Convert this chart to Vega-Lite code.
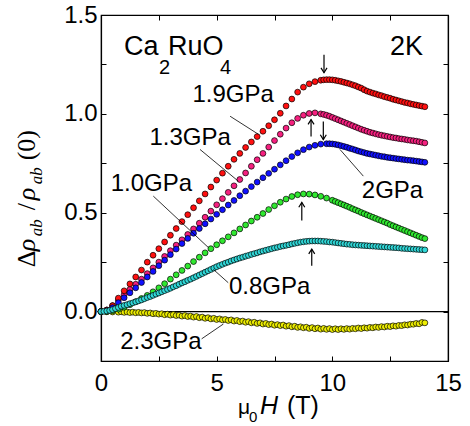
{
"$schema": "https://vega.github.io/schema/vega-lite/v6.json",
"width": 347, "height": 346,
"autosize": {"type": "none"},
"padding": {"left": 101, "top": 15, "right": 22, "bottom": 65},
"background": "white",
"config": {
 "view": {"stroke": "black", "strokeWidth": 1.2},
 "axis": {"domainColor": "black", "domainWidth": 1.2, "tickColor": "black", "tickWidth": 1, "tickSize": -5, "labelFont": "Liberation Sans", "labelFontSize": 24, "labelColor": "black", "grid": false, "labelFlush": false, "labelOverlap": false}
},
"datasets": {
 "yellow": [
  {"h":0,"v":0},{"h":0.25,"v":-0.001},{"h":0.5,"v":-0.002},{"h":0.75,"v":-0.003},{"h":0.875,"v":-0.001},{"h":1.0,"v":-0.004},{"h":1.125,"v":-0.002},{"h":1.25,"v":-0.005},{"h":1.375,"v":-0.003},{"h":1.5,"v":-0.006},{"h":1.625,"v":-0.004},{"h":1.75,"v":-0.007},{"h":1.875,"v":-0.005},{"h":2.0,"v":-0.009},{"h":2.125,"v":-0.007},{"h":2.25,"v":-0.011},{"h":2.375,"v":-0.009},{"h":2.5,"v":-0.013},{"h":2.625,"v":-0.011},{"h":2.75,"v":-0.016},{"h":2.875,"v":-0.013},{"h":3.0,"v":-0.018},{"h":3.125,"v":-0.015},{"h":3.25,"v":-0.02},{"h":3.375,"v":-0.018},{"h":3.5,"v":-0.023},{"h":3.625,"v":-0.02},{"h":3.75,"v":-0.025},{"h":3.875,"v":-0.023},{"h":4.0,"v":-0.028},{"h":4.125,"v":-0.025},{"h":4.25,"v":-0.031},{"h":4.375,"v":-0.028},{"h":4.5,"v":-0.034},{"h":4.625,"v":-0.031},{"h":4.75,"v":-0.037},{"h":4.875,"v":-0.034},{"h":5.0,"v":-0.04},{"h":5.125,"v":-0.037},{"h":5.25,"v":-0.042},{"h":5.375,"v":-0.04},{"h":5.5,"v":-0.045},{"h":5.625,"v":-0.042},{"h":5.75,"v":-0.048},{"h":5.875,"v":-0.045},{"h":6.0,"v":-0.051},{"h":6.125,"v":-0.048},{"h":6.25,"v":-0.054},{"h":6.375,"v":-0.051},{"h":6.5,"v":-0.057},{"h":6.625,"v":-0.054},{"h":6.75,"v":-0.06},{"h":6.875,"v":-0.057},{"h":7.0,"v":-0.063},{"h":7.125,"v":-0.06},{"h":7.25,"v":-0.066},{"h":7.375,"v":-0.063},{"h":7.5,"v":-0.069},{"h":7.625,"v":-0.066},{"h":7.75,"v":-0.071},{"h":7.875,"v":-0.068},{"h":8.0,"v":-0.074},{"h":8.125,"v":-0.071},{"h":8.25,"v":-0.077},{"h":8.375,"v":-0.074},{"h":8.5,"v":-0.08},{"h":8.625,"v":-0.077},{"h":8.75,"v":-0.082},{"h":8.875,"v":-0.079},{"h":9.0,"v":-0.085},{"h":9.125,"v":-0.081},{"h":9.25,"v":-0.087},{"h":9.375,"v":-0.083},{"h":9.5,"v":-0.089},{"h":9.625,"v":-0.085},{"h":9.75,"v":-0.09},{"h":9.875,"v":-0.086},{"h":10.0,"v":-0.091},{"h":10.125,"v":-0.087},{"h":10.25,"v":-0.091},{"h":10.375,"v":-0.087},{"h":10.5,"v":-0.09},{"h":10.625,"v":-0.086},{"h":10.75,"v":-0.089},{"h":10.875,"v":-0.085},{"h":11.0,"v":-0.087},{"h":11.125,"v":-0.083},{"h":11.25,"v":-0.086},{"h":11.375,"v":-0.082},{"h":11.5,"v":-0.084},{"h":11.625,"v":-0.08},{"h":11.75,"v":-0.082},{"h":11.875,"v":-0.078},{"h":12.0,"v":-0.08},{"h":12.125,"v":-0.076},{"h":12.25,"v":-0.078},{"h":12.375,"v":-0.074},{"h":12.5,"v":-0.076},{"h":12.625,"v":-0.072},{"h":12.75,"v":-0.074},{"h":12.875,"v":-0.07},{"h":13.0,"v":-0.071},{"h":13.125,"v":-0.067},{"h":13.25,"v":-0.068},{"h":13.375,"v":-0.064},{"h":13.5,"v":-0.064},{"h":13.625,"v":-0.06},{"h":13.75,"v":-0.062},{"h":13.875,"v":-0.055},{"h":14.0,"v":-0.057}
 ],
 "pink": [
  {"h":0,"v":0},{"h":0.25,"v":0.008},{"h":0.5,"v":0.03},{"h":0.75,"v":0.058},{"h":1.0,"v":0.085},{"h":1.25,"v":0.112},{"h":1.5,"v":0.138},{"h":1.75,"v":0.164},{"h":2.0,"v":0.192},{"h":2.25,"v":0.221},{"h":2.5,"v":0.25},{"h":2.75,"v":0.279},{"h":3.0,"v":0.308},{"h":3.25,"v":0.336},{"h":3.5,"v":0.363},{"h":3.75,"v":0.39},{"h":4.0,"v":0.418},{"h":4.25,"v":0.447},{"h":4.5,"v":0.477},{"h":4.75,"v":0.508},{"h":5.0,"v":0.54},{"h":5.25,"v":0.571},{"h":5.5,"v":0.603},{"h":5.75,"v":0.636},{"h":6.0,"v":0.668},{"h":6.25,"v":0.701},{"h":6.5,"v":0.735},{"h":6.75,"v":0.768},{"h":7.0,"v":0.8},{"h":7.25,"v":0.832},{"h":7.5,"v":0.865},{"h":7.75,"v":0.897},{"h":8.0,"v":0.928},{"h":8.25,"v":0.955},{"h":8.5,"v":0.977},{"h":8.75,"v":0.993},{"h":9.0,"v":1.002},{"h":9.25,"v":1.005},{"h":9.5,"v":1.0},
  {"h":9.625,"v":0.997},{"h":9.75,"v":0.993},{"h":9.875,"v":0.988},{"h":10.0,"v":0.982},{"h":10.125,"v":0.976},{"h":10.25,"v":0.97},{"h":10.375,"v":0.964},{"h":10.5,"v":0.958},{"h":10.625,"v":0.952},{"h":10.75,"v":0.946},{"h":10.875,"v":0.94},{"h":11.0,"v":0.934},{"h":11.125,"v":0.928},{"h":11.25,"v":0.922},{"h":11.375,"v":0.917},{"h":11.5,"v":0.912},{"h":11.625,"v":0.907},{"h":11.75,"v":0.903},{"h":11.875,"v":0.899},{"h":12.0,"v":0.895},{"h":12.125,"v":0.892},{"h":12.25,"v":0.889},{"h":12.375,"v":0.886},{"h":12.5,"v":0.883},{"h":12.625,"v":0.88},{"h":12.75,"v":0.878},{"h":12.875,"v":0.875},{"h":13.0,"v":0.873},{"h":13.125,"v":0.871},{"h":13.25,"v":0.868},{"h":13.375,"v":0.866},{"h":13.5,"v":0.864},{"h":13.625,"v":0.862},{"h":13.75,"v":0.859},{"h":13.875,"v":0.856},{"h":14.0,"v":0.853}
 ],
 "red": [
  {"h":0,"v":0},{"h":0.25,"v":0.008},{"h":0.5,"v":0.03},{"h":0.75,"v":0.068},{"h":1.0,"v":0.105},{"h":1.25,"v":0.14},{"h":1.5,"v":0.175},{"h":1.75,"v":0.21},{"h":2.0,"v":0.25},{"h":2.25,"v":0.285},{"h":2.5,"v":0.318},{"h":2.75,"v":0.352},{"h":3.0,"v":0.386},{"h":3.25,"v":0.42},{"h":3.5,"v":0.455},{"h":3.75,"v":0.49},{"h":4.0,"v":0.525},{"h":4.25,"v":0.56},{"h":4.5,"v":0.595},{"h":4.75,"v":0.63},{"h":5.0,"v":0.665},{"h":5.25,"v":0.7},{"h":5.5,"v":0.735},{"h":5.75,"v":0.77},{"h":6.0,"v":0.8},{"h":6.25,"v":0.83},{"h":6.5,"v":0.858},{"h":6.75,"v":0.885},{"h":7.0,"v":0.912},{"h":7.25,"v":0.94},{"h":7.5,"v":0.97},{"h":7.75,"v":1.003},{"h":8.0,"v":1.04},{"h":8.25,"v":1.075},{"h":8.5,"v":1.11},{"h":8.75,"v":1.135},{"h":9.0,"v":1.152},{"h":9.25,"v":1.163},{"h":9.5,"v":1.17},
  {"h":9.625,"v":1.172},{"h":9.75,"v":1.173},{"h":9.875,"v":1.173},{"h":10.0,"v":1.172},{"h":10.125,"v":1.17},{"h":10.25,"v":1.167},{"h":10.375,"v":1.164},{"h":10.5,"v":1.16},{"h":10.625,"v":1.156},{"h":10.75,"v":1.152},{"h":10.875,"v":1.147},{"h":11.0,"v":1.142},{"h":11.125,"v":1.136},{"h":11.25,"v":1.13},{"h":11.375,"v":1.122},{"h":11.5,"v":1.115},{"h":11.625,"v":1.11},{"h":11.75,"v":1.105},{"h":11.875,"v":1.101},{"h":12.0,"v":1.096},{"h":12.125,"v":1.092},{"h":12.25,"v":1.087},{"h":12.375,"v":1.083},{"h":12.5,"v":1.079},{"h":12.625,"v":1.074},{"h":12.75,"v":1.07},{"h":12.875,"v":1.066},{"h":13.0,"v":1.062},{"h":13.125,"v":1.058},{"h":13.25,"v":1.055},{"h":13.375,"v":1.051},{"h":13.5,"v":1.048},{"h":13.625,"v":1.045},{"h":13.75,"v":1.042},{"h":13.875,"v":1.039},{"h":14.0,"v":1.036}
 ],
 "blue": [
  {"h":0,"v":0},{"h":0.25,"v":0.004},{"h":0.5,"v":0.02},{"h":0.75,"v":0.045},{"h":1.0,"v":0.07},{"h":1.25,"v":0.095},{"h":1.5,"v":0.12},{"h":1.75,"v":0.147},{"h":2.0,"v":0.175},{"h":2.25,"v":0.203},{"h":2.5,"v":0.232},{"h":2.75,"v":0.26},{"h":3.0,"v":0.288},{"h":3.25,"v":0.316},{"h":3.5,"v":0.344},{"h":3.75,"v":0.37},{"h":4.0,"v":0.396},{"h":4.25,"v":0.42},{"h":4.5,"v":0.444},{"h":4.75,"v":0.468},{"h":5.0,"v":0.492},{"h":5.25,"v":0.515},{"h":5.5,"v":0.539},{"h":5.75,"v":0.562},{"h":6.0,"v":0.586},{"h":6.25,"v":0.609},{"h":6.5,"v":0.632},{"h":6.75,"v":0.655},{"h":7.0,"v":0.677},{"h":7.25,"v":0.699},{"h":7.5,"v":0.72},{"h":7.75,"v":0.742},{"h":8.0,"v":0.763},{"h":8.25,"v":0.784},{"h":8.5,"v":0.803},{"h":8.75,"v":0.819},{"h":9.0,"v":0.832},{"h":9.25,"v":0.841},{"h":9.5,"v":0.847},{"h":9.75,"v":0.849},
  {"h":9.875,"v":0.849},{"h":10.0,"v":0.848},{"h":10.125,"v":0.846},{"h":10.25,"v":0.843},{"h":10.375,"v":0.839},{"h":10.5,"v":0.835},{"h":10.625,"v":0.831},{"h":10.75,"v":0.826},{"h":10.875,"v":0.822},{"h":11.0,"v":0.817},{"h":11.125,"v":0.812},{"h":11.25,"v":0.808},{"h":11.375,"v":0.804},{"h":11.5,"v":0.8},{"h":11.625,"v":0.797},{"h":11.75,"v":0.794},{"h":11.875,"v":0.791},{"h":12.0,"v":0.788},{"h":12.125,"v":0.785},{"h":12.25,"v":0.783},{"h":12.375,"v":0.78},{"h":12.5,"v":0.778},{"h":12.625,"v":0.776},{"h":12.75,"v":0.774},{"h":12.875,"v":0.772},{"h":13.0,"v":0.77},{"h":13.125,"v":0.768},{"h":13.25,"v":0.766},{"h":13.375,"v":0.765},{"h":13.5,"v":0.763},{"h":13.625,"v":0.761},{"h":13.75,"v":0.759},{"h":13.875,"v":0.757},{"h":14.0,"v":0.755}
 ],
 "green": [
  {"h":0,"v":0},{"h":0.25,"v":0.0},{"h":0.5,"v":0.004},{"h":0.75,"v":0.012},{"h":1.0,"v":0.022},{"h":1.25,"v":0.035},{"h":1.5,"v":0.05},{"h":1.75,"v":0.066},{"h":2.0,"v":0.082},{"h":2.25,"v":0.1},{"h":2.5,"v":0.12},{"h":2.75,"v":0.141},{"h":3.0,"v":0.164},{"h":3.25,"v":0.186},{"h":3.5,"v":0.208},{"h":3.75,"v":0.23},{"h":4.0,"v":0.253},{"h":4.25,"v":0.275},{"h":4.5,"v":0.297},{"h":4.75,"v":0.318},{"h":5.0,"v":0.338},{"h":5.25,"v":0.358},{"h":5.5,"v":0.378},{"h":5.75,"v":0.398},{"h":6.0,"v":0.418},{"h":6.25,"v":0.438},{"h":6.5,"v":0.458},{"h":6.75,"v":0.477},{"h":7.0,"v":0.496},{"h":7.25,"v":0.516},{"h":7.5,"v":0.535},{"h":7.75,"v":0.553},{"h":8.0,"v":0.569},{"h":8.25,"v":0.582},{"h":8.5,"v":0.591},{"h":8.75,"v":0.595},{"h":9.0,"v":0.594},{"h":9.25,"v":0.59},{"h":9.5,"v":0.583},{"h":9.75,"v":0.574},{"h":10.0,"v":0.563},
  {"h":10.125,"v":0.557},{"h":10.25,"v":0.551},{"h":10.375,"v":0.545},{"h":10.5,"v":0.539},{"h":10.625,"v":0.533},{"h":10.75,"v":0.527},{"h":10.875,"v":0.52},{"h":11.0,"v":0.514},{"h":11.125,"v":0.508},{"h":11.25,"v":0.501},{"h":11.375,"v":0.495},{"h":11.5,"v":0.489},{"h":11.625,"v":0.483},{"h":11.75,"v":0.477},{"h":11.875,"v":0.471},{"h":12.0,"v":0.465},{"h":12.125,"v":0.459},{"h":12.25,"v":0.453},{"h":12.375,"v":0.447},{"h":12.5,"v":0.44},{"h":12.625,"v":0.434},{"h":12.75,"v":0.428},{"h":12.875,"v":0.422},{"h":13.0,"v":0.416},{"h":13.125,"v":0.41},{"h":13.25,"v":0.404},{"h":13.375,"v":0.398},{"h":13.5,"v":0.392},{"h":13.625,"v":0.386},{"h":13.75,"v":0.38},{"h":13.875,"v":0.374},{"h":14.0,"v":0.369}
 ],
 "cyan": [
  {"h":0,"v":0},{"h":0.125,"v":0.001},{"h":0.25,"v":0.003},{"h":0.375,"v":0.006},{"h":0.5,"v":0.01},{"h":0.625,"v":0.015},{"h":0.75,"v":0.021},{"h":0.875,"v":0.027},{"h":1.0,"v":0.031},{"h":1.125,"v":0.035},{"h":1.25,"v":0.04},{"h":1.375,"v":0.044},{"h":1.5,"v":0.049},{"h":1.625,"v":0.054},{"h":1.75,"v":0.059},{"h":1.875,"v":0.065},{"h":2.0,"v":0.071},{"h":2.125,"v":0.076},{"h":2.25,"v":0.082},{"h":2.375,"v":0.088},{"h":2.5,"v":0.094},{"h":2.625,"v":0.1},{"h":2.75,"v":0.106},{"h":2.875,"v":0.112},{"h":3.0,"v":0.118},{"h":3.125,"v":0.125},{"h":3.25,"v":0.131},{"h":3.375,"v":0.138},{"h":3.5,"v":0.145},{"h":3.625,"v":0.151},{"h":3.75,"v":0.158},{"h":3.875,"v":0.164},{"h":4.0,"v":0.171},{"h":4.125,"v":0.178},{"h":4.25,"v":0.185},{"h":4.375,"v":0.192},{"h":4.5,"v":0.199},{"h":4.625,"v":0.206},{"h":4.75,"v":0.213},{"h":4.875,"v":0.22},{"h":5.0,"v":0.227},{"h":5.125,"v":0.233},{"h":5.25,"v":0.239},{"h":5.375,"v":0.245},{"h":5.5,"v":0.25},{"h":5.625,"v":0.256},{"h":5.75,"v":0.261},{"h":5.875,"v":0.266},{"h":6.0,"v":0.271},{"h":6.125,"v":0.275},{"h":6.25,"v":0.28},{"h":6.375,"v":0.284},{"h":6.5,"v":0.289},{"h":6.625,"v":0.293},{"h":6.75,"v":0.297},{"h":6.875,"v":0.302},{"h":7.0,"v":0.306},{"h":7.125,"v":0.31},{"h":7.25,"v":0.314},{"h":7.375,"v":0.318},{"h":7.5,"v":0.322},{"h":7.625,"v":0.325},{"h":7.75,"v":0.329},{"h":7.875,"v":0.332},{"h":8.0,"v":0.335},{"h":8.125,"v":0.338},{"h":8.25,"v":0.342},{"h":8.375,"v":0.345},{"h":8.5,"v":0.348},{"h":8.625,"v":0.351},{"h":8.75,"v":0.353},{"h":8.875,"v":0.355},{"h":9.0,"v":0.356},{"h":9.125,"v":0.357},{"h":9.25,"v":0.357},{"h":9.375,"v":0.357},{"h":9.5,"v":0.356},{"h":9.625,"v":0.355},{"h":9.75,"v":0.354},{"h":9.875,"v":0.352},{"h":10.0,"v":0.351},{"h":10.125,"v":0.349},{"h":10.25,"v":0.347},{"h":10.375,"v":0.345},{"h":10.5,"v":0.343},{"h":10.625,"v":0.341},{"h":10.75,"v":0.34},{"h":10.875,"v":0.338},{"h":11.0,"v":0.337},{"h":11.125,"v":0.336},{"h":11.25,"v":0.335},{"h":11.375,"v":0.334},{"h":11.5,"v":0.333},{"h":11.625,"v":0.332},{"h":11.75,"v":0.331},{"h":11.875,"v":0.33},{"h":12.0,"v":0.329},{"h":12.125,"v":0.328},{"h":12.25,"v":0.327},{"h":12.375,"v":0.326},{"h":12.5,"v":0.325},{"h":12.625,"v":0.324},{"h":12.75,"v":0.323},{"h":12.875,"v":0.322},{"h":13.0,"v":0.32},{"h":13.125,"v":0.319},{"h":13.25,"v":0.318},{"h":13.375,"v":0.317},{"h":13.5,"v":0.316},{"h":13.625,"v":0.315},{"h":13.75,"v":0.314},{"h":13.875,"v":0.313},{"h":14.0,"v":0.312}
 ],
 "labels": [
  {"h":5.71,"v":1.062,"t":"1.9GPa"},
  {"h":3.85,"v":0.845,"t":"1.3GPa"},
  {"h":2.18,"v":0.609,"t":"1.0GPa"},
  {"h":7.29,"v":0.089,"t":"0.8GPa"},
  {"h":2.59,"v":-0.189,"t":"2.3GPa"},
  {"h":12.6,"v":0.576,"t":"2GPa"}
 ],
 "leaders": [
  {"h":5.58,"v":0.988,"h2":6.8,"v2":0.897},
  {"h":4.28,"v":0.82,"h2":5.93,"v2":0.66},
  {"h":2.26,"v":0.584,"h2":4.64,"v2":0.324},
  {"h":5.5,"v":0.146,"h2":4.86,"v2":0.213},
  {"h":4.35,"v":-0.138,"h2":5.29,"v2":-0.063},
  {"h":11.34,"v":0.685,"h2":10.33,"v2":0.82}
 ],
 "arrows": [
  {"h":9.64,"v":1.2995,"v2":1.208,"d":"down"},
  {"h":9.08,"v":0.885,"v2":0.971,"d":"up"},
  {"h":9.61,"v":0.961,"v2":0.87,"d":"down"},
  {"h":8.68,"v":0.461,"v2":0.552,"d":"up"},
  {"h":9.11,"v":0.232,"v2":0.316,"d":"up"}
 ],
 "ytitle": [{"h":-2.853,"v":0.224}],
 "xtitle": [{"h":5.923,"v":-0.519}],
 "compound": [{"h":0.994,"v":1.2995}],
 "temp": [{"h":13.922,"v":1.2995,"t":"2K"}],
 "zero": [{"v":0}]
},
"layer": [
 {"data": {"name": "zero"}, "mark": {"type": "rule", "color": "black", "strokeWidth": 1.3},
  "encoding": {"y": {"field": "v", "type": "quantitative", "scale": {"domain": [-0.25, 1.5], "nice": false, "zero": false}, "axis": null}}},
 {"data": {"name": "yellow"}, "mark": {"type": "circle", "size": 34, "fill": "#eeee00", "stroke": "black", "strokeWidth": 0.7, "opacity": 1},
  "encoding": {
   "x": {"field": "h", "type": "quantitative", "scale": {"domain": [0, 15], "nice": false, "zero": false}, "axis": {"orient": "bottom", "values": [0, 2.5, 5, 7.5, 10, 12.5, 15], "labelExpr": "datum.value % 5 === 0 ? datum.label : ''", "labelPadding": 15, "title": null}},
   "y": {"field": "v", "type": "quantitative", "scale": {"domain": [-0.25, 1.5], "nice": false, "zero": false}, "axis": {"orient": "left", "values": [-0.25, 0, 0.25, 0.5, 0.75, 1, 1.25, 1.5], "labelExpr": "(datum.value * 2) % 1 === 0 ? format(datum.value, '.1f') : ''", "labelPadding": 9, "title": null}}}},
 {"data": {"name": "pink"}, "mark": {"type": "circle", "size": 34, "fill": "#f5207f", "stroke": "black", "strokeWidth": 0.7, "opacity": 1},
  "encoding": {"x": {"field": "h", "type": "quantitative", "axis": null}, "y": {"field": "v", "type": "quantitative", "axis": null}}},
 {"data": {"name": "red"}, "mark": {"type": "circle", "size": 34, "fill": "#ff1010", "stroke": "black", "strokeWidth": 0.7, "opacity": 1},
  "encoding": {"x": {"field": "h", "type": "quantitative", "axis": null}, "y": {"field": "v", "type": "quantitative", "axis": null}}},
 {"data": {"name": "blue"}, "mark": {"type": "circle", "size": 34, "fill": "#1010ff", "stroke": "black", "strokeWidth": 0.7, "opacity": 1},
  "encoding": {"x": {"field": "h", "type": "quantitative", "axis": null}, "y": {"field": "v", "type": "quantitative", "axis": null}}},
 {"data": {"name": "green"}, "mark": {"type": "circle", "size": 34, "fill": "#30e830", "stroke": "black", "strokeWidth": 0.7, "opacity": 1},
  "encoding": {"x": {"field": "h", "type": "quantitative", "axis": null}, "y": {"field": "v", "type": "quantitative", "axis": null}}},
 {"data": {"name": "cyan"}, "mark": {"type": "circle", "size": 34, "fill": "#30d8d8", "stroke": "black", "strokeWidth": 0.7, "opacity": 1},
  "encoding": {
   "x": {"field": "h", "type": "quantitative", "axis": {"orient": "top", "values": [0, 2.5, 5, 7.5, 10, 12.5, 15], "labels": false, "title": null}},
   "y": {"field": "v", "type": "quantitative", "axis": {"orient": "right", "values": [-0.25, 0, 0.25, 0.5, 0.75, 1, 1.25, 1.5], "labels": false, "title": null}}}},
 {"data": {"name": "leaders"}, "mark": {"type": "rule", "color": "black", "strokeWidth": 0.8},
  "encoding": {"x": {"field": "h", "type": "quantitative", "axis": null}, "y": {"field": "v", "type": "quantitative", "axis": null}, "x2": {"field": "h2"}, "y2": {"field": "v2"}}},
 {"data": {"name": "arrows"}, "mark": {"type": "rule", "color": "black", "strokeWidth": 1.2},
  "encoding": {"x": {"field": "h", "type": "quantitative", "axis": null}, "y": {"field": "v", "type": "quantitative", "axis": null}, "y2": {"field": "v2"}}},
 {"data": {"name": "arrows"}, "mark": {"type": "point", "filled": false, "size": 36, "stroke": "black", "strokeWidth": 1.2, "opacity": 1},
  "encoding": {"x": {"field": "h", "type": "quantitative", "axis": null}, "y": {"field": "v2", "type": "quantitative", "axis": null},
   "shape": {"field": "d", "type": "nominal", "scale": {"domain": ["down", "up"], "range": ["M -1 -1.6 L 0 0 L 1 -1.6", "M -1 1.6 L 0 0 L 1 1.6"]}, "legend": null}}},
 {"data": {"name": "labels"}, "mark": {"type": "text", "font": "Liberation Sans", "fontSize": 24, "align": "center", "baseline": "alphabetic", "color": "black"},
  "encoding": {"x": {"field": "h", "type": "quantitative", "axis": null}, "y": {"field": "v", "type": "quantitative", "axis": null}, "text": {"field": "t"}}},
 {"data": {"name": "temp"}, "mark": {"type": "text", "font": "Liberation Sans", "fontSize": 27, "align": "right", "baseline": "alphabetic", "color": "black"},
  "encoding": {"x": {"field": "h", "type": "quantitative", "axis": null}, "y": {"field": "v", "type": "quantitative", "axis": null}, "text": {"field": "t"}}},
 {"data": {"name": "compound"}, "mark": {"type": "text", "text": "Ca", "font": "Liberation Sans", "fontSize": 27, "align": "left", "baseline": "alphabetic", "color": "black"},
  "encoding": {"x": {"field": "h", "type": "quantitative", "axis": null}, "y": {"field": "v", "type": "quantitative", "axis": null}}},
 {"data": {"name": "compound"}, "mark": {"type": "text", "text": "2", "font": "Liberation Sans", "fontSize": 20, "align": "left", "baseline": "alphabetic", "dx": 35, "dy": 19, "color": "black"},
  "encoding": {"x": {"field": "h", "type": "quantitative", "axis": null}, "y": {"field": "v", "type": "quantitative", "axis": null}}},
 {"data": {"name": "compound"}, "mark": {"type": "text", "text": "RuO", "font": "Liberation Sans", "fontSize": 27, "align": "left", "baseline": "alphabetic", "dx": 44, "color": "black"},
  "encoding": {"x": {"field": "h", "type": "quantitative", "axis": null}, "y": {"field": "v", "type": "quantitative", "axis": null}}},
 {"data": {"name": "compound"}, "mark": {"type": "text", "text": "4", "font": "Liberation Sans", "fontSize": 20, "align": "left", "baseline": "alphabetic", "dx": 96, "dy": 19, "color": "black"},
  "encoding": {"x": {"field": "h", "type": "quantitative", "axis": null}, "y": {"field": "v", "type": "quantitative", "axis": null}}},
 {"data": {"name": "ytitle"}, "mark": {"type": "text", "text": "Δ", "font": "Liberation Serif", "fontSize": 26, "angle": 270, "align": "left", "baseline": "alphabetic", "dx": 0, "color": "black"},
  "encoding": {"x": {"field": "h", "type": "quantitative", "axis": null}, "y": {"field": "v", "type": "quantitative", "axis": null}}},
 {"data": {"name": "ytitle"}, "mark": {"type": "text", "text": "ρ", "font": "Liberation Serif", "fontStyle": "italic", "fontSize": 26, "angle": 270, "align": "left", "baseline": "alphabetic", "dx": 16, "color": "black"},
  "encoding": {"x": {"field": "h", "type": "quantitative", "axis": null}, "y": {"field": "v", "type": "quantitative", "axis": null}}},
 {"data": {"name": "ytitle"}, "mark": {"type": "text", "text": "ab", "font": "Liberation Serif", "fontStyle": "italic", "fontSize": 17, "angle": 270, "align": "left", "baseline": "alphabetic", "dx": 31, "dy": 7, "color": "black"},
  "encoding": {"x": {"field": "h", "type": "quantitative", "axis": null}, "y": {"field": "v", "type": "quantitative", "axis": null}}},
 {"data": {"name": "ytitle"}, "mark": {"type": "text", "text": "/", "font": "Liberation Serif", "fontSize": 26, "angle": 270, "align": "left", "baseline": "alphabetic", "dx": 57, "color": "black"},
  "encoding": {"x": {"field": "h", "type": "quantitative", "axis": null}, "y": {"field": "v", "type": "quantitative", "axis": null}}},
 {"data": {"name": "ytitle"}, "mark": {"type": "text", "text": "ρ", "font": "Liberation Serif", "fontStyle": "italic", "fontSize": 26, "angle": 270, "align": "left", "baseline": "alphabetic", "dx": 67, "color": "black"},
  "encoding": {"x": {"field": "h", "type": "quantitative", "axis": null}, "y": {"field": "v", "type": "quantitative", "axis": null}}},
 {"data": {"name": "ytitle"}, "mark": {"type": "text", "text": "ab", "font": "Liberation Serif", "fontStyle": "italic", "fontSize": 17, "angle": 270, "align": "left", "baseline": "alphabetic", "dx": 83, "dy": 7, "color": "black"},
  "encoding": {"x": {"field": "h", "type": "quantitative", "axis": null}, "y": {"field": "v", "type": "quantitative", "axis": null}}},
 {"data": {"name": "ytitle"}, "mark": {"type": "text", "text": "(0)", "font": "Liberation Serif", "fontSize": 26, "angle": 270, "align": "left", "baseline": "alphabetic", "dx": 107, "color": "black"},
  "encoding": {"x": {"field": "h", "type": "quantitative", "axis": null}, "y": {"field": "v", "type": "quantitative", "axis": null}}},
 {"data": {"name": "xtitle"}, "mark": {"type": "text", "text": "μ", "font": "Liberation Sans", "fontSize": 21, "align": "left", "baseline": "alphabetic", "dx": 0, "color": "black"},
  "encoding": {"x": {"field": "h", "type": "quantitative", "axis": null}, "y": {"field": "v", "type": "quantitative", "axis": null}}},
 {"data": {"name": "xtitle"}, "mark": {"type": "text", "text": "0", "font": "Liberation Sans", "fontSize": 15, "align": "left", "baseline": "alphabetic", "dx": 11, "dy": 8, "color": "black"},
  "encoding": {"x": {"field": "h", "type": "quantitative", "axis": null}, "y": {"field": "v", "type": "quantitative", "axis": null}}},
 {"data": {"name": "xtitle"}, "mark": {"type": "text", "text": "H", "font": "Liberation Sans", "fontStyle": "italic", "fontSize": 25, "align": "left", "baseline": "alphabetic", "dx": 22, "color": "black"},
  "encoding": {"x": {"field": "h", "type": "quantitative", "axis": null}, "y": {"field": "v", "type": "quantitative", "axis": null}}},
 {"data": {"name": "xtitle"}, "mark": {"type": "text", "text": "(T)", "font": "Liberation Sans", "fontSize": 25, "align": "left", "baseline": "alphabetic", "dx": 49, "color": "black"},
  "encoding": {"x": {"field": "h", "type": "quantitative", "axis": null}, "y": {"field": "v", "type": "quantitative", "axis": null}}}
]
}
